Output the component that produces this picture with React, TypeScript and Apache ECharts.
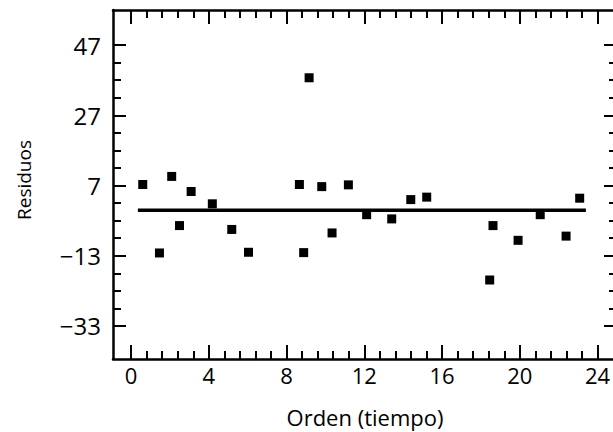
import React, { useEffect, useRef } from "react";
import * as echarts from "echarts";

// Residual data
const orden: number[] = [0.6, 1.46, 2.09, 2.49, 3.09, 4.18, 5.18, 6.04, 8.66, 8.88, 9.16, 9.81, 10.34, 11.18, 12.12, 13.41, 14.39, 15.21, 18.45, 18.62, 19.91, 21.05, 22.38, 23.08];
const residuos: number[] = [7.3, -12.2, 9.6, -4.4, 5.3, 1.8, -5.5, -12.0, 7.3, -12.1, 37.7, 6.7, -6.5, 7.2, -1.3, -2.5, 3.0, 3.7, -19.9, -4.4, -8.6, -1.3, -7.4, 3.4];

// Zero reference line
const zeroLineX: number[] = [0.35, 23.4];
const zeroLineY: number[] = [0, 0];

// Tick labels
const xTicks: number[] = [0, 4, 8, 12, 16, 20, 24];
const yTicks: number[] = [-33, -13, 7, 27, 47];
const xMinor: number[] = xTicks.slice(0, -1).flatMap((t) => [1, 2, 3, 4].map((j) => +(t + 0.8 * j).toFixed(2)));
const yMinor: number[] = yTicks.slice(0, -1).flatMap((t) => [1, 2, 3].map((j) => t + 5 * j));

const X_MIN = -0.93;
const X_MAX = 25;
const Y_MIN = -42.4;
const Y_MAX = 57;

const FONT = "Open Sans";

export default function App() {
  const ref = useRef<HTMLDivElement>(null);
  useEffect(() => {
    if (!ref.current) return;
    const chart = echarts.init(ref.current, undefined, { renderer: "svg" });
    const line = { color: "#000", width: 2 };
    const fmt = (v: number) => String(v).replace("-", "\u2212");
    const xBase = (position: "top" | "bottom", major: boolean, showLabel: boolean, name?: string) => ({
      type: "value",
      position,
      min: X_MIN,
      max: X_MAX,
      name,
      nameLocation: "middle",
      nameGap: 47,
      nameTextStyle: { fontFamily: FONT, fontSize: 22, color: "#000" },
      axisLine: { show: major, onZero: false, lineStyle: { color: "#000", width: 2.5 } },
      axisTick: { show: true, inside: true, length: major ? 14 : 8, lineStyle: line, customValues: major ? xTicks : xMinor },
      axisLabel: { show: showLabel, customValues: xTicks, margin: 5, fontFamily: FONT, fontSize: 22, color: "#000", formatter: fmt },
      splitLine: { show: false },
    });
    const yBase = (position: "left" | "right", major: boolean, showLabel: boolean, name?: string) => ({
      type: "value",
      position,
      min: Y_MIN,
      max: Y_MAX,
      name,
      nameLocation: "middle",
      nameGap: 80,
      nameTextStyle: { fontFamily: FONT, fontSize: 19, color: "#000", padding: [0, 0, 0, 9] },
      axisLine: { show: major, onZero: false, lineStyle: { color: "#000", width: 2.5 } },
      axisTick: { show: true, inside: true, length: major ? 13 : 8, lineStyle: line, customValues: major ? yTicks : yMinor },
      axisLabel: { show: showLabel, customValues: yTicks, margin: 12, fontFamily: FONT, fontSize: 24, color: "#000", formatter: fmt },
      splitLine: { show: false },
    });
    chart.setOption({
      animation: false,
      backgroundColor: "#fff",
      grid: { left: 113, width: 504, top: 10, height: 349, containLabel: false, outerBoundsMode: "none" },
      xAxis: [
        xBase("bottom", true, true, "Orden (tiempo)"),
        xBase("bottom", false, false),
        xBase("top", true, false),
        xBase("top", false, false),
      ],
      yAxis: [
        yBase("left", true, true, "Residuos"),
        yBase("left", false, false),
        yBase("right", true, false),
        yBase("right", false, false),
      ],
      series: [
        {
          type: "line",
          xAxisIndex: 0,
          yAxisIndex: 0,
          data: zeroLineX.map((x, i) => [x, zeroLineY[i]]),
          symbol: "none",
          lineStyle: { color: "#000", width: 3.5 },
          silent: true,
        },
        {
          type: "scatter",
          xAxisIndex: 0,
          yAxisIndex: 0,
          data: orden.map((x, i) => [x, residuos[i]]),
          symbol: "rect",
          symbolSize: 9,
          itemStyle: { color: "#000", opacity: 1 },
        },
      ],
    });
    return () => chart.dispose();
  }, []);
  return <div ref={ref} style={{ position: "absolute", left: 0, top: 0, width: 613, height: 432 }} />;
}
